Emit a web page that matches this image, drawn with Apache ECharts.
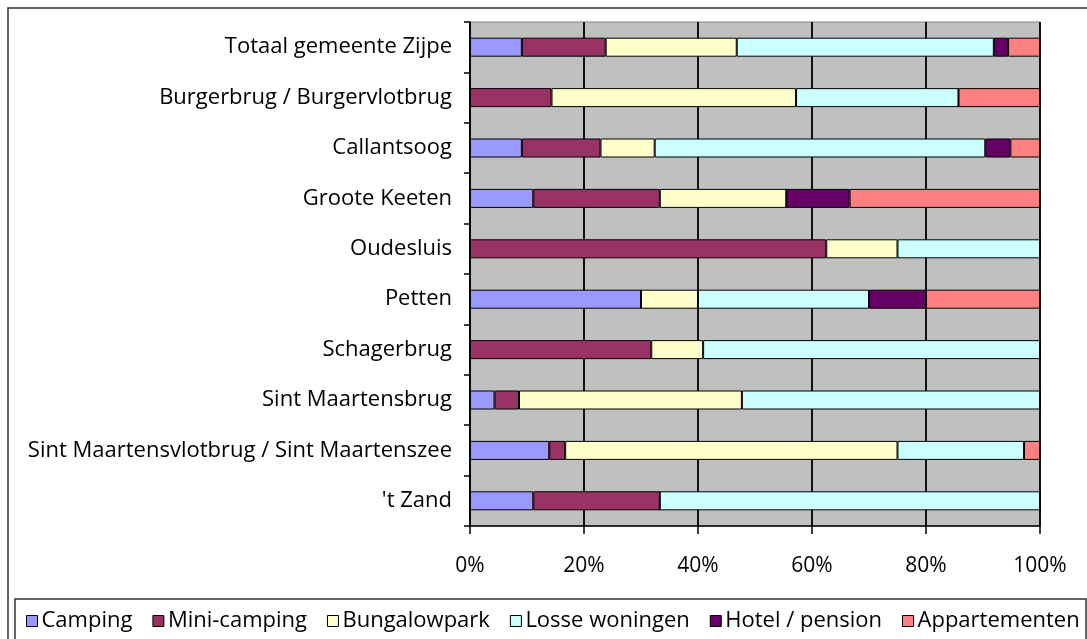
<!DOCTYPE html>
<html>
<head>
<meta charset="utf-8">
<script src="https://cdn.jsdelivr.net/npm/echarts@6/dist/echarts.min.js"></script>
<style>
  html, body { margin: 0; padding: 0; background: #fff; }
  #chart { width: 1087px; height: 639px; }
</style>
</head>
<body>
<div id="chart"></div>
<script>
// categories, top to bottom
var places = [
  'Totaal gemeente Zijpe',
  'Burgerbrug / Burgervlotbrug',
  'Callantsoog',
  'Groote Keeten',
  'Oudesluis',
  'Petten',
  'Schagerbrug',
  'Sint Maartensbrug',
  'Sint Maartensvlotbrug / Sint Maartenszee',
  "'t Zand"
];
var seriesNames = ['Camping', 'Mini-camping', 'Bungalowpark', 'Losse woningen', 'Hotel / pension', 'Appartementen'];
var seriesColors = ['#9999FF', '#993366', '#FFFFCC', '#CCFFFF', '#660066', '#FF8080'];

// percentages per place
var camping      = [9.1, 0,    9.1,  11.1, 0,    30, 0,    4.3,  13.9, 11.1];
var miniCamping  = [14.7, 14.3, 13.8, 22.2, 62.5, 0,  31.8, 4.3,  2.8,  22.2];
var bungalowpark = [23.0, 42.9, 9.5,  22.2, 12.5, 10, 9.1,  39.1, 58.3, 0];
var losseWoning  = [45.1, 28.5, 58.0, 0,    25.0, 30, 59.1, 52.3, 22.2, 66.7];
var hotel        = [2.5,  0,    4.4,  11.1, 0,    10, 0,    0,    0,    0];
var appartement  = [5.6,  14.3, 5.2,  33.4, 0,    20, 0,    0,    2.8,  0];

var xTicks = [0, 20, 40, 60, 80, 100];

var allValues = [camping, miniCamping, bungalowpark, losseWoning, hotel, appartement];

var FONT = 'Open Sans';
var chart = echarts.init(document.getElementById('chart'));

var series = seriesNames.map(function (name, i) {
  return {
    name: name,
    type: 'bar',
    stack: 'total',
    barWidth: 19,
    data: allValues[i],
    itemStyle: { color: seriesColors[i], borderColor: '#000', borderWidth: 1 },
    emphasis: { disabled: true }
  };
});

var option = {
  animation: false,
  textStyle: { fontFamily: FONT, color: '#000' },
  graphic: [
    { type: 'rect', shape: { x: 8, y: 8, width: 1100, height: 700 }, style: { fill: 'none', stroke: '#333', lineWidth: 1.5 }, z: -1 },
    { type: 'rect', shape: { x: 15, y: 599, width: 1071, height: 60 }, style: { fill: '#fff', stroke: '#333', lineWidth: 1.5 }, z: 0 }
  ],
  grid: {
    left: 470, right: 47, top: 22, bottom: 113,
    show: true, backgroundColor: '#C0C0C0', borderColor: '#808080', borderWidth: 1
  },
  legend: {
    data: seriesNames,
    left: 21, top: 605,
    itemWidth: 11, itemHeight: 11, itemGap: 20,
    icon: 'rect',
    itemStyle: { borderColor: '#000', borderWidth: 1 },
    textStyle: { fontFamily: FONT, fontSize: 22, color: '#000', padding: [0, 0, 0, -1] },
    z: 5
  },
  xAxis: {
    type: 'value',
    min: 0, max: 100, interval: 20,
    axisLine: { show: true, lineStyle: { color: '#000', width: 1.5 } },
    axisTick: { show: true, length: 8, lineStyle: { color: '#000', width: 1.5 } },
    splitLine: { show: true, lineStyle: { color: '#111', width: 2 } },
    axisLabel: {
      margin: 30, fontSize: 21, color: '#000', fontFamily: FONT,
      formatter: function (v) { return xTicks.indexOf(v) >= 0 ? v + '%' : ''; }
    }
  },
  yAxis: {
    type: 'category',
    inverse: true,
    data: places,
    axisLine: { show: true, lineStyle: { color: '#000', width: 1.5 } },
    axisTick: { show: true, length: 6, lineStyle: { color: '#000', width: 1.5 } },
    axisLabel: { margin: 18, fontSize: 22, color: '#000', fontFamily: FONT }
  },
  series: series
};

chart.setOption(option);
</script>
</body>
</html>
